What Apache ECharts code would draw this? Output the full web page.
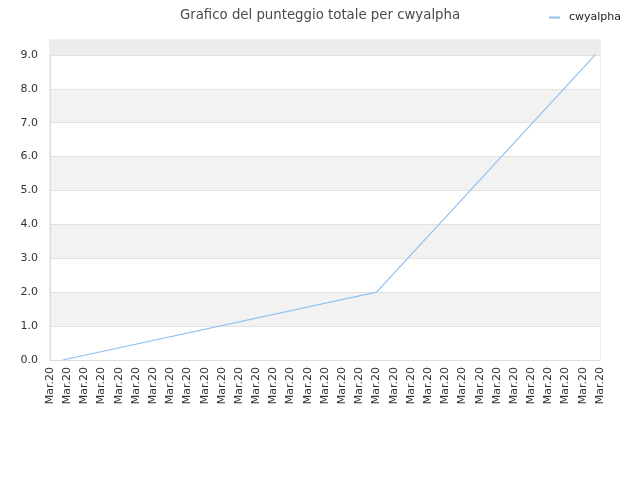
<!DOCTYPE html>
<html>
<head>
<meta charset="utf-8">
<script src="https://cdn.jsdelivr.net/npm/echarts@6/dist/echarts.min.js"></script>
<style>
  html, body { margin: 0; padding: 0; background: #fff; }
  #chart { width: 640px; height: 480px; }
</style>
</head>
<body>
<div id="chart"></div>
<script>
// punteggio totale, x in giorni (posizione sull'asse)
var dayLabels = [];
for (var i = 0; i <= 32; i++) dayLabels.push('Mar.20');
var scoreX = [0.74, 19.0, 31.72];
var scoreY = [0, 2, 9];
var yTicks = [0, 1, 2, 3, 4, 5, 6, 7, 8, 9];

var points = [];
for (var k = 0; k < scoreX.length; k++) {
  points.push([scoreX[k], scoreY[k]]);
}

var chart = echarts.init(document.getElementById('chart'));
var option = {
  backgroundColor: '#ffffff',
  animation: false,
  textStyle: { fontFamily: 'DejaVu Sans' },
  title: {
    text: 'Grafico del punteggio totale per cwyalpha',
    left: 'center',
    top: 4,
    textStyle: { fontSize: 13.3, fontWeight: 'normal', color: '#4a4a4a' }
  },
  legend: {
    right: 14,
    top: 7,
    itemWidth: 11,
    itemHeight: 2,
    icon: 'rect',
    textStyle: { fontSize: 11, color: '#222', padding: [0, 0, 0, 4] },
    data: ['cwyalpha']
  },
  grid: {
    left: 50, right: 40, top: 40, bottom: 120,
    show: true, borderColor: '#dcdcdc', borderWidth: 1
  },
  xAxis: {
    type: 'value',
    min: 0, max: dayLabels.length - 1, interval: 1,
    axisLine: { show: true, lineStyle: { color: '#dcdcdc' } },
    axisTick: { show: false },
    splitLine: { show: false },
    axisLabel: {
      rotate: 90, fontSize: 11, color: '#333', margin: 7,
      formatter: function (v) { return dayLabels[Math.round(v)] || ''; }
    }
  },
  yAxis: {
    type: 'value',
    min: 0, max: 9.44, interval: 1,
    axisLine: { show: true, lineStyle: { color: '#dcdcdc' } },
    axisTick: { show: false },
    splitLine: { show: true, lineStyle: { color: '#e2e2e2' } },
    splitArea: { show: true, areaStyle: { color: ['#ffffff', '#f2f2f2'] } },
    axisLabel: {
      fontSize: 11, color: '#333', margin: 12,
      formatter: function (v) { return yTicks.indexOf(v) >= 0 ? v.toFixed(1) : ''; }
    }
  },
  series: [{
    name: 'cwyalpha',
    type: 'line',
    data: points,
    showSymbol: false,
    lineStyle: { color: '#8fc0f0', width: 1.2 },
    itemStyle: { color: '#8fc0f0' },
    markArea: {
      silent: true,
      itemStyle: { color: '#ececec' },
      data: [[{ yAxis: 9 }, { yAxis: 9.44 }]]
    }
  }]
};
chart.setOption(option);
</script>
</body>
</html>
